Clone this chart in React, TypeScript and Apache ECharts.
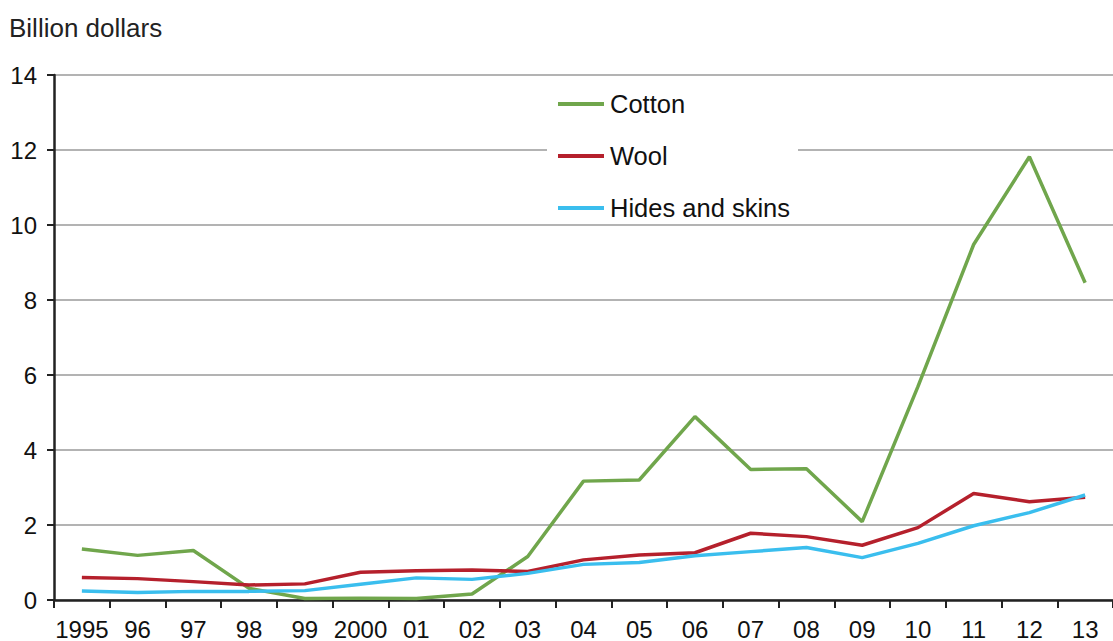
import React, { useEffect, useRef } from "react";
import * as echarts from "echarts";

const years = ["1995", "96", "97", "98", "99", "2000", "01", "02", "03", "04", "05", "06", "07", "08", "09", "10", "11", "12", "13"];
const cotton = [1.36, 1.19, 1.32, 0.31, 0.04, 0.05, 0.04, 0.16, 1.16, 3.17, 3.2, 4.89, 3.48, 3.5, 2.09, 5.69, 9.48, 11.82, 8.46];
const wool = [0.6, 0.57, 0.49, 0.4, 0.43, 0.74, 0.78, 0.8, 0.76, 1.07, 1.2, 1.26, 1.78, 1.69, 1.46, 1.93, 2.84, 2.62, 2.74];
const hides = [0.24, 0.2, 0.23, 0.23, 0.25, 0.42, 0.59, 0.55, 0.71, 0.95, 1.0, 1.18, 1.29, 1.4, 1.13, 1.51, 1.98, 2.33, 2.8];

const FONT = "'Liberation Sans', Arial, Helvetica, sans-serif";

export default function App() {
  const ref = useRef<HTMLDivElement>(null);
  useEffect(() => {
    const chart = echarts.init(ref.current!, null, { renderer: "svg" });
    chart.setOption({
      animation: false,
      backgroundColor: "#ffffff",
      textStyle: { fontFamily: FONT },
      title: {
        text: "Billion dollars",
        left: 9,
        top: 15,
        padding: 0,
        textStyle: { fontFamily: FONT, fontSize: 26, fontWeight: "normal", color: "#222", lineHeight: 26 },
      },
      legend: {
        orient: "vertical",
        left: 547,
        top: 79,
        backgroundColor: "#ffffff",
        padding: [12, 8, 2, 11],
        itemWidth: 46,
        itemHeight: 4,
        itemGap: 26,
        icon: "rect",
        textStyle: { fontFamily: FONT, fontSize: 25.5, color: "#111", lineHeight: 22, padding: [0, 0, 0, 1] },
        data: ["Cotton", "Wool", "Hides and skins"],
      },
      grid: { left: 54, top: 75, width: 1065, height: 527, containLabel: false },
      xAxis: {
        type: "category",
        data: years,
        boundaryGap: true,
        axisLine: { lineStyle: { color: "#222", width: 2.5 } },
        axisTick: { show: true, length: 8, lineStyle: { color: "#222", width: 2 }, alignWithLabel: false },
        axisLabel: { fontFamily: FONT, fontSize: 24, color: "#111", margin: 17, interval: 0 },
        splitLine: { show: false },
      },
      yAxis: {
        type: "value",
        min: 0,
        max: 14,
        interval: 2,
        axisLine: { show: true, lineStyle: { color: "#222", width: 2.5 } },
        axisTick: { show: true, length: 7, lineStyle: { color: "#222", width: 2 } },
        axisLabel: { fontFamily: FONT, fontSize: 24, color: "#111", margin: 17 },
        splitLine: { show: true, lineStyle: { color: "#9a9a9a", width: 1.5 } },
      },
      series: [
        { name: "Cotton", type: "line", data: cotton, symbol: "none", color: "#70A64C", lineStyle: { width: 3.5, color: "#70A64C" }, z: 3 },
        { name: "Wool", type: "line", data: wool, symbol: "none", color: "#B5202C", lineStyle: { width: 3.5, color: "#B5202C" }, z: 3 },
        { name: "Hides and skins", type: "line", data: hides, symbol: "none", color: "#3ABEEE", lineStyle: { width: 3.5, color: "#3ABEEE" }, z: 4 },
      ],
    });
    return () => chart.dispose();
  }, []);
  return <div ref={ref} style={{ width: 1113, height: 641, position: "absolute", left: 0, top: 0 }} />;
}
